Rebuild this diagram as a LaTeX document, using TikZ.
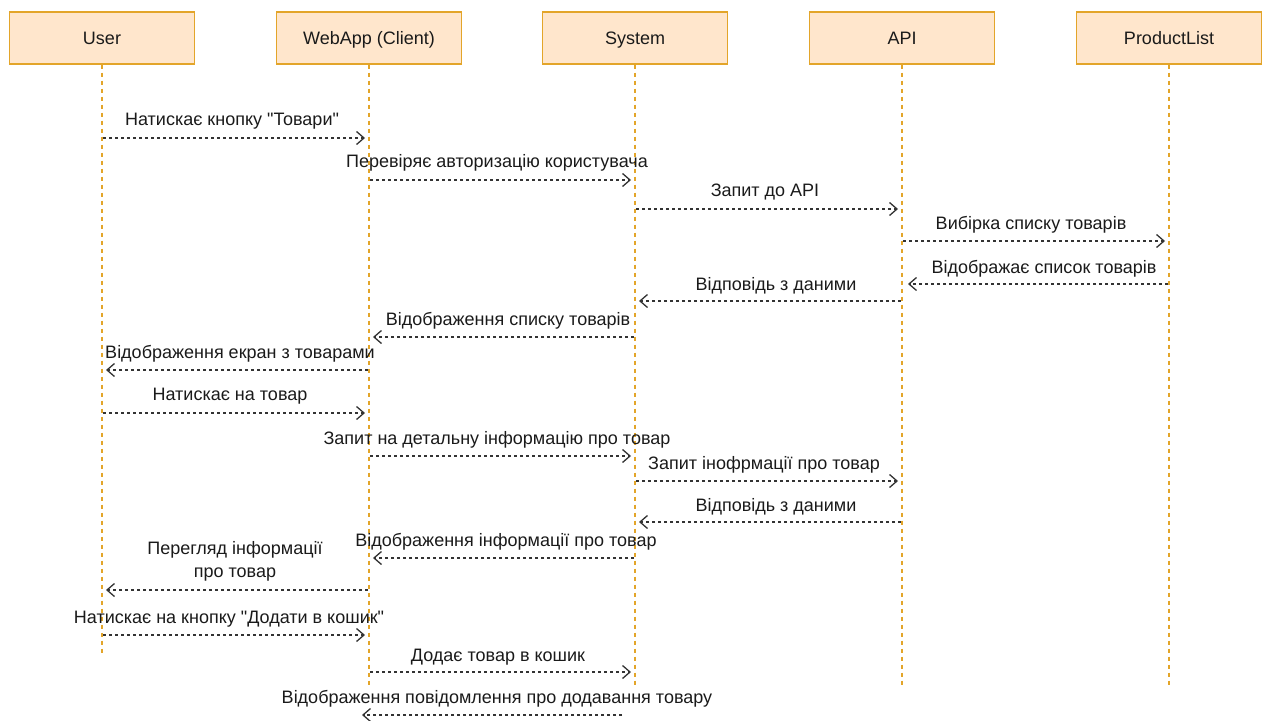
\documentclass[tikz,border=0pt]{standalone}
\usepackage{fontspec}
\setmainfont{Liberation Sans}[Ligatures=TeXOff]
\usetikzlibrary{arrows.meta}
\definecolor{boxfill}{HTML}{FFE6CC}
\definecolor{boxline}{HTML}{E3A52A}
\definecolor{msgcol}{HTML}{333333}
\definecolor{txtcol}{HTML}{1A1A1A}
\begin{document}
\begin{tikzpicture}[x=1pt,y=-1pt,
  actor/.style={draw=boxline, fill=boxfill, line width=1.3pt, minimum width=185pt, minimum height=52pt, inner sep=0pt, text height=13pt, text depth=0pt, font=\fontsize{18}{21}\selectfont, text=txtcol},
  lifeline/.style={draw=boxline, line width=1.5pt, dash pattern=on 4pt off 4pt},
  msg/.style={draw=msgcol, line width=1.3pt, dash pattern=on 3pt off 3pt, -{Straight Barb[length=7.5pt,width=13pt,line width=1.3pt]}},
  lbl/.style={font=\fontsize{18}{23}\selectfont, text=txtcol, inner sep=0pt, align=center, anchor=base}
]
\useasboundingbox (0,0) rectangle (1268,720);

\node[actor] (U) at (102,38) {User};
\node[actor] (W) at (369,38) {WebApp (Client)};
\node[actor] (S) at (635,38) {System};
\node[actor] (A) at (902,38) {API};
\node[actor] (P) at (1169,38) {ProductList};

\coordinate (Ue) at (102,655);
\coordinate (We) at (369,687);
\coordinate (Se) at (635,687);
\coordinate (Ae) at (902,687);
\coordinate (Pe) at (1169,687);
\foreach \n in {U,W,S,A,P} \draw[lifeline] (\n.south) -- (\n e);

% messages
\draw[msg] ([xshift=1pt]U.south |- 0,138) -- ([xshift=-4pt]W.south |- 0,138);
\node[lbl] (m1) at (232,125) {Натискає кнопку "Товари"};

\draw[msg] ([xshift=1pt]W.south |- 0,180) -- ([xshift=-4pt]S.south |- 0,180);
\node[lbl] (m2) at (497,167) {Перевіряє авторизацію користувача};

\draw[msg] ([xshift=1pt]S.south |- 0,209) -- ([xshift=-4pt]A.south |- 0,209);
\node[lbl] (m3) at (765,196) {Запит до API};

\draw[msg] ([xshift=1pt]A.south |- 0,241) -- ([xshift=-4pt]P.south |- 0,241);
\node[lbl] (m4) at (1031,229) {Вибірка списку товарів};

\draw[msg] ([xshift=-1pt]P.south |- 0,284) -- ([xshift=6pt]A.south |- 0,284);
\node[lbl] (m5) at (1044,273) {Відображає список товарів};

\draw[msg] ([xshift=-1pt]A.south |- 0,301) -- ([xshift=4pt]S.south |- 0,301);
\node[lbl] (m6) at (776,290) {Відповідь з даними};

\draw[msg] ([xshift=-1pt]S.south |- 0,337) -- ([xshift=4pt]W.south |- 0,337);
\node[lbl] (m7) at (508,325) {Відображення списку товарів};

\draw[msg] ([xshift=-1pt]W.south |- 0,370) -- ([xshift=4pt]U.south |- 0,370);
\node[lbl] (m8) at (240,358) {Відображення екран з товарами};

\draw[msg] ([xshift=1pt]U.south |- 0,413) -- ([xshift=-4pt]W.south |- 0,413);
\node[lbl] (m9) at (230,400) {Натискає на товар};

\draw[msg] ([xshift=1pt]W.south |- 0,456) -- ([xshift=-4pt]S.south |- 0,456);
\node[lbl] (m10) at (497,444) {Запит на детальну інформацію про товар};

\draw[msg] ([xshift=1pt]S.south |- 0,481) -- ([xshift=-4pt]A.south |- 0,481);
\node[lbl] (m11) at (764,469) {Запит інофрмації про товар};

\draw[msg] ([xshift=-1pt]A.south |- 0,522) -- ([xshift=4pt]S.south |- 0,522);
\node[lbl] (m12) at (776,511) {Відповідь з даними};

\draw[msg] ([xshift=-1pt]S.south |- 0,558) -- ([xshift=4pt]W.south |- 0,558);
\node[lbl] (m13) at (506,546) {Відображення інформації про товар};

\draw[msg] ([xshift=-1pt]W.south |- 0,590) -- ([xshift=4pt]U.south |- 0,590);
\node[lbl] (m14) at (235,577) {Перегляд інформації\\про товар};

\draw[msg] ([xshift=1pt]U.south |- 0,635) -- ([xshift=-4pt]W.south |- 0,635);
\node[lbl] (m15) at (229,623) {Натискає на кнопку "Додати в кошик"};

\draw[msg] ([xshift=1pt]W.south |- 0,672) -- ([xshift=-4pt]S.south |- 0,672);
\node[lbl] (m16) at (498,661) {Додає товар в кошик};

\draw[msg] ([xshift=-13pt]S.south |- 0,715) -- ([xshift=-7pt]W.south |- 0,715);
\node[lbl] (m17) at (497,703) {Відображення повідомлення про додавання товару};
\end{tikzpicture}
\end{document}
